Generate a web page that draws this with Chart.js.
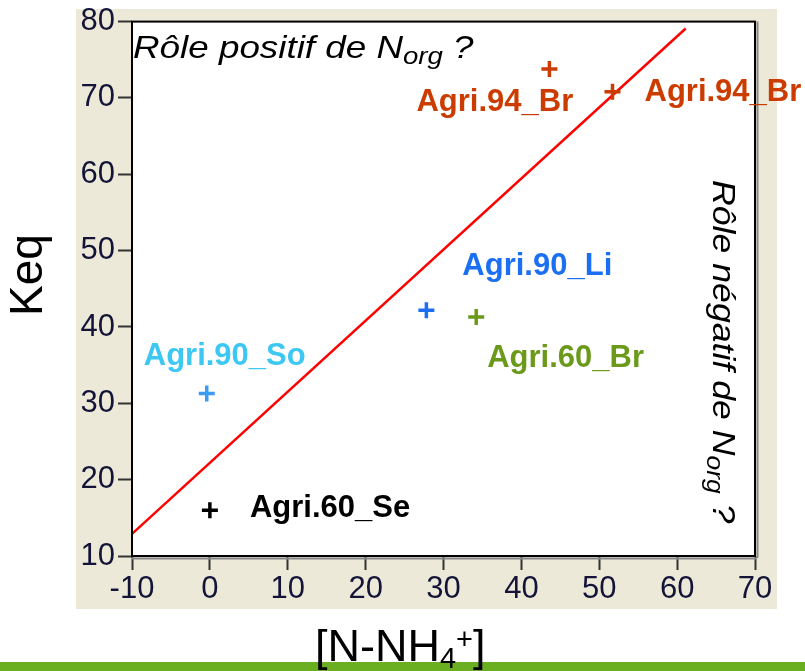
<!DOCTYPE html>
<html>
<head>
<meta charset="utf-8">
<script src="https://cdn.jsdelivr.net/npm/chart.js@4.4.1/dist/chart.umd.min.js"></script>
<style>
  html, body { margin: 0; padding: 0; background: #ffffff; }
  #wrap { width: 805px; height: 671px; position: relative; }
</style>
</head>
<body>
<div id="wrap"><canvas id="c" width="805" height="671"></canvas></div>
<script>
// Sample names and measured values
const sampleNames = ['Agri.60_Se', 'Agri.90_So', 'Agri.90_Li', 'Agri.60_Br', 'Agri.94_Br', 'Agri.94_Br'];
const nh4Values   = [0, -0.4, 27.8, 34.2, 43.6, 51.7];   // [N-NH4+]
const keqValues   = [16.0, 31.3, 42.2, 41.3, 73.8, 70.8]; // Keq

// Reference line (Keq against [N-NH4+])
const lineX = [-10, 61.1];
const lineY = [12.9, 79.1];

// Axis ranges and tick steps
const xRange = [-10, 70];
const yRange = [10, 80];
const tickStep = 10;

// Per-sample colours and label anchoring (pixel offset from the mark)
const crossColors = ['#000000', '#3b9cf2', '#1b6ff2', '#6b9a1b', '#cc3c00', '#cc3c00'];
const textColors  = ['#000000', '#3cc8f2', '#1b6ff2', '#6b9a1b', '#cc3c00', '#cc3c00'];
const labelOffsets = [[40, 7], [-63, -28], [36, -35], [11, 50], [-133, 42], [32, 9]];

const FONT = '"Liberation Sans", Arial, Helvetica, sans-serif';

// Draws a run of [text, size, baselineShift] pieces, returns the end x
function drawRuns(ctx, runs, x, y, style) {
  let cx = x;
  for (const [txt, size, shift] of runs) {
    ctx.font = style + ' ' + size + 'px ' + FONT;
    ctx.fillText(txt, cx, y + shift);
    cx += ctx.measureText(txt).width;
  }
  return cx;
}

const decor = {
  id: 'decor',
  beforeDraw(chart) {
    const { ctx, chartArea: a } = chart;
    ctx.save();
    ctx.fillStyle = '#ffffff';
    ctx.fillRect(0, 0, chart.width, chart.height);
    ctx.fillStyle = '#ece9d8';
    ctx.fillRect(76, 9, 701, 600);
    ctx.fillStyle = '#ffffff';
    ctx.fillRect(a.left, a.top, a.right - a.left, a.bottom - a.top);
    ctx.restore();
  },
  afterDraw(chart) {
    const { ctx, chartArea: a, scales } = chart;
    ctx.save();
    // frame of the plotting area
    ctx.strokeStyle = '#888888';
    ctx.lineWidth = 2;
    ctx.beginPath();
    ctx.moveTo(a.left, a.bottom + 2.5); ctx.lineTo(a.right + 2, a.bottom + 2.5);
    ctx.moveTo(a.right + 2.5, a.top); ctx.lineTo(a.right + 2.5, a.bottom + 2);
    ctx.stroke();
    ctx.strokeStyle = '#000000';
    ctx.strokeRect(a.left, a.top, a.right - a.left, a.bottom - a.top);

    // sample labels
    ctx.textBaseline = 'alphabetic';
    ctx.textAlign = 'left';
    ctx.font = 'bold 31px ' + FONT;
    sampleNames.forEach((name, i) => {
      const px = scales.x.getPixelForValue(nh4Values[i]);
      const py = scales.y.getPixelForValue(keqValues[i]);
      ctx.fillStyle = textColors[i];
      ctx.fillText(name, px + labelOffsets[i][0], py + labelOffsets[i][1]);
    });

    // italic notes
    ctx.fillStyle = '#000000';
    const sx = 1.15;
    ctx.save();
    ctx.translate(133, 58);
    ctx.scale(sx, 1);
    drawRuns(ctx, [['Rôle positif de N', 32, 0], ['org', 24, 6], [' ?', 32, 0]], 0, 0, 'italic');
    ctx.restore();

    ctx.save();
    ctx.translate(713, 180);
    ctx.rotate(Math.PI / 2);
    ctx.scale(sx, 1);
    drawRuns(ctx, [['Rôle négatif de N', 31, 0], ['org', 23, 6], [' ?', 31, 0]], 0, 0, 'italic');
    ctx.restore();

    // axis titles
    ctx.save();
    ctx.translate(42, 275);
    ctx.rotate(-Math.PI / 2);
    ctx.textAlign = 'center';
    ctx.font = '46px ' + FONT;
    ctx.fillText('Keq', 0, 0);
    ctx.restore();

    // bottom band
    ctx.fillStyle = '#6aae22';
    ctx.fillRect(0, 662, chart.width, 9);

    ctx.fillStyle = '#000000';
    ctx.textAlign = 'left';
    drawRuns(ctx, [['[N-NH', 45, 0], ['4', 29, 7], ['+', 29, -12], [']', 45, 0]], 315, 661, 'normal');
    ctx.restore();
  }
};

const points = nh4Values.map((x, i) => ({ x, y: keqValues[i] }));
const linePts = lineX.map((x, i) => ({ x, y: lineY[i] }));

new Chart(document.getElementById('c'), {
  type: 'scatter',
  data: {
    datasets: [
      {
        type: 'line',
        data: linePts,
        borderColor: '#ff0000',
        borderWidth: 2.5,
        pointRadius: 0,
        fill: false,
        order: 2
      },
      {
        data: points,
        pointStyle: 'cross',
        pointRadius: 8,
        pointBorderWidth: 3.5,
        pointBorderColor: crossColors,
        pointBackgroundColor: crossColors,
        order: 1
      }
    ]
  },
  options: {
    responsive: false,
    animation: false,
    devicePixelRatio: 1,
    layout: { padding: { left: 0, top: 21, right: 50, bottom: 0 } },
    plugins: { legend: { display: false }, tooltip: { enabled: false } },
    scales: {
      x: {
        type: 'linear',
        min: xRange[0], max: xRange[1],
        afterFit(s) { s.height = 115; },
        ticks: { stepSize: tickStep, color: '#141438', font: { family: FONT, size: 31 }, padding: 1, maxRotation: 0 },
        grid: { drawOnChartArea: false, tickLength: 14, tickColor: '#333333', tickWidth: 2 },
        border: { display: false }
      },
      y: {
        type: 'linear',
        min: yRange[0], max: yRange[1],
        afterFit(s) { s.width = 132; },
        ticks: { stepSize: tickStep, color: '#141438', font: { family: FONT, size: 31 }, padding: 3 },
        grid: { drawOnChartArea: false, tickLength: 14, tickColor: '#333333', tickWidth: 2 },
        border: { display: false }
      }
    }
  },
  plugins: [decor]
});
</script>
</body>
</html>
